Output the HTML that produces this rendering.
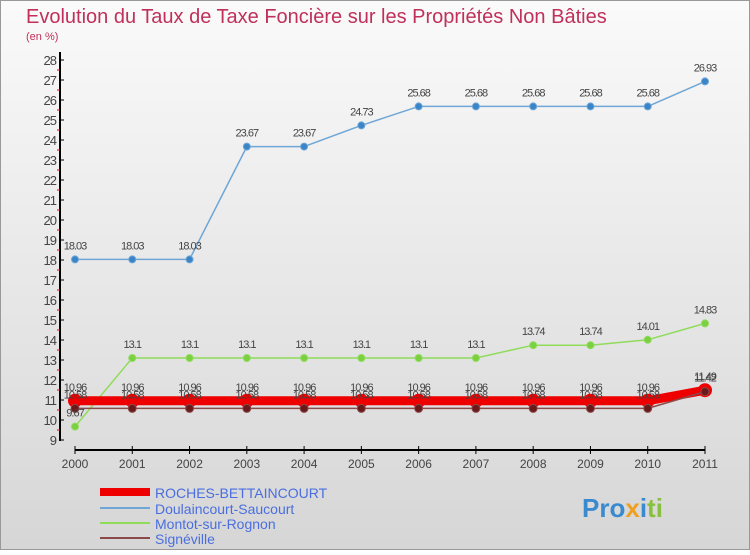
<!DOCTYPE html>
<html><head><meta charset="utf-8"><style>
body{margin:0;width:750px;height:550px;overflow:hidden;font-family:"Liberation Sans","DejaVu Sans",sans-serif}
</style></head><body>
<svg width="750" height="550" xmlns="http://www.w3.org/2000/svg">
<defs><linearGradient id="bg" x1="0" y1="0" x2="0" y2="1"><stop offset="0" stop-color="#fafafa"/><stop offset="1" stop-color="#d6d6d6"/></linearGradient></defs>
<rect x="0.5" y="0.5" width="749" height="549" fill="url(#bg)" stroke="#999"/>
<text x="26" y="23" font-size="20" fill="#c0305a">Evolution du Taux de Taxe Foncière sur les Propriétés Non Bâties</text>
<text x="26" y="40" font-size="11" fill="#c0305a">(en %)</text>
<g id="axes"></g><g id="series"></g>
<g>
<line x1="100" y1="492" x2="150" y2="492" stroke="#e00" stroke-width="8"/>
<text x="155" y="498" font-size="14" fill="#4a6ee0">ROCHES-BETTAINCOURT</text>
<line x1="100" y1="508" x2="150" y2="508" stroke="#6fa6d6" stroke-width="2"/>
<text x="155" y="514" font-size="14" fill="#4a6ee0">Doulaincourt-Saucourt</text>
<line x1="100" y1="523" x2="150" y2="523" stroke="#8fdc5a" stroke-width="2"/>
<text x="155" y="529" font-size="14" fill="#4a6ee0">Montot-sur-Rognon</text>
<line x1="100" y1="538" x2="150" y2="538" stroke="#8a4a4a" stroke-width="2"/>
<text x="155" y="544" font-size="14" fill="#4a6ee0">Signéville</text>
</g>
<text x="582" y="517" font-size="26" font-weight="bold" fill="#3a8ad0">Pro<tspan fill="#f0a020">x</tspan><tspan fill="#3a8ad0">i</tspan><tspan fill="#8ac040">ti</tspan></text>
</svg>
<script>
const years=[2000,2001,2002,2003,2004,2005,2006,2007,2008,2009,2010,2011];
const yTicks=[9,10,11,12,13,14,15,16,17,18,19,20,21,22,23,24,25,26,27,28];
const roches=[10.96,10.96,10.96,10.96,10.96,10.96,10.96,10.96,10.96,10.96,10.96,11.49];
const doulaincourt=[18.03,18.03,18.03,23.67,23.67,24.73,25.68,25.68,25.68,25.68,25.68,26.93];
const montot=[9.67,13.1,13.1,13.1,13.1,13.1,13.1,13.1,13.74,13.74,14.01,14.83];
const signeville=[10.58,10.58,10.58,10.58,10.58,10.58,10.58,10.58,10.58,10.58,10.58,11.42];
const NS="http://www.w3.org/2000/svg";
const X=i=>75+i*(630/11);
const Y=v=>440-(v-9)*20;
function mk(t,a,p){const e=document.createElementNS(NS,t);for(const k in a)e.setAttribute(k,a[k]);p.appendChild(e);return e;}
const ax=document.getElementById('axes');
let l=mk('line',{x1:60,y1:52,x2:60,y2:441,stroke:'#000','stroke-width':2},ax);


yTicks.forEach(v=>{
 mk('line',{x1:60,y1:Y(v),x2:64,y2:Y(v),stroke:'#000'},ax);
 if(v<28)mk('line',{x1:57,y1:Y(v+0.5),x2:60,y2:Y(v+0.5),stroke:'#e00'},ax);
 const t=mk('text',{x:56,y:Y(v)+5,'font-size':13,fill:'#444','text-anchor':'end','letter-spacing':'-1'},ax);
 t.textContent=v;
 
 
});
l=mk('line',{x1:75,y1:450,x2:705,y2:450,stroke:'#000','stroke-width':2},ax);


years.forEach((y,i)=>{
 mk('line',{x1:X(i),y1:446,x2:X(i),y2:454,stroke:'#000'},ax);
 const t=mk('text',{x:X(i),y:468,'font-size':12,fill:'#444','text-anchor':'middle'},ax);
 t.textContent=y;
 
 
});
const sg=document.getElementById('series');
function series(arr,name,col,w,r,dot,lblDy){
 const g=mk('g',{},sg);
 
 
 const p=mk('polyline',{points:arr.map((v,i)=>X(i)+','+Y(v)).join(' '),fill:'none',stroke:col,'stroke-width':w,'stroke-linejoin':'round'},g);
 
 
 arr.forEach((v,i)=>{
  const c=mk('circle',{cx:X(i),cy:Y(v),r:r,fill:dot,stroke:col==dot?'none':col,'stroke-width':1},g);
  
  
 });
 return g;
}
function labels(arr,name,dy){
 const g=mk('g',{},sg);
 arr.forEach((v,i)=>{
  const t=mk('text',{x:X(i),y:Y(v)+dy,'font-size':11,fill:'#444','text-anchor':'middle','letter-spacing':'-1'},g);
  t.textContent=v;
  
  
 });
}
series(doulaincourt,'doulaincourt','#6fa6d6',1.5,3.5,'#3a85c8');
series(montot,'montot','#8fdc5a',1.5,3.5,'#7ad040');
series(roches,'roches','#e00',9,7,'#e00');
series(signeville,'signeville','#8a4a4a',1.5,4,'#6a1a1a');
labels(doulaincourt,'doulaincourt',-10);
labels(montot,'montot',-10);
labels(roches,'roches',-10);
labels(signeville,'signeville',-10);
</script>
</body></html>
